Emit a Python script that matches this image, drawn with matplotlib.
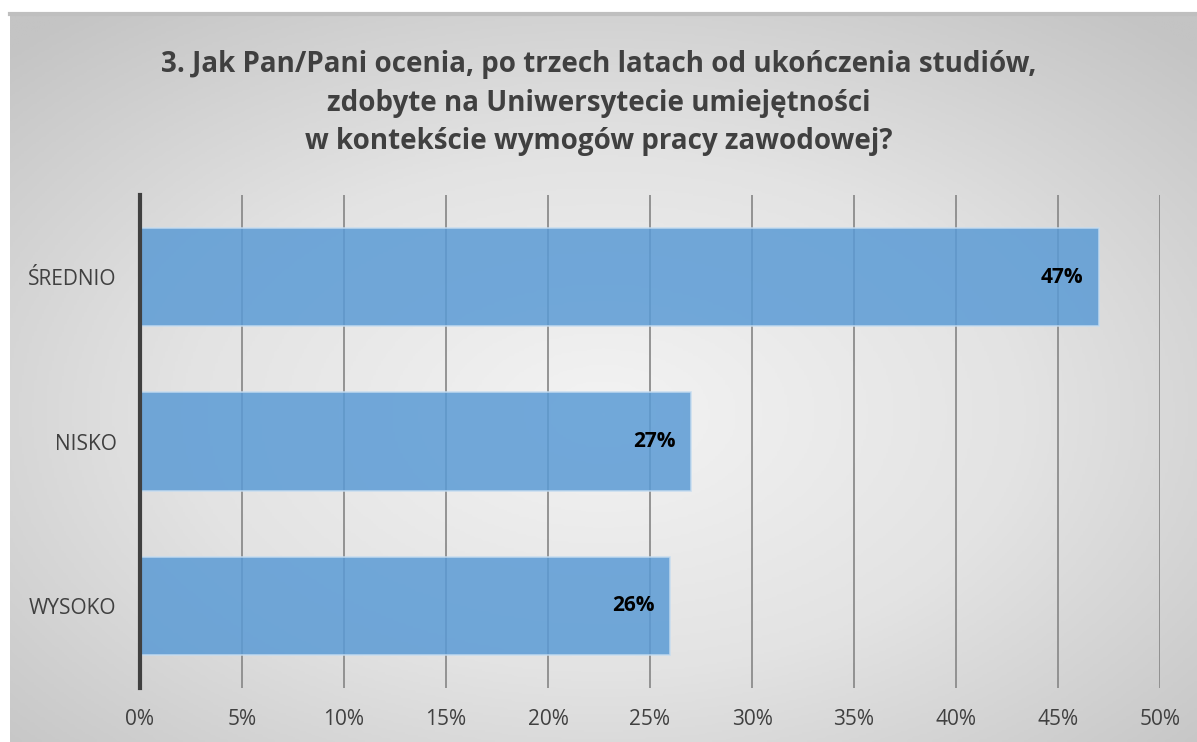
import numpy as np
import matplotlib
matplotlib.use('Agg')
import matplotlib.pyplot as plt
from matplotlib.colors import LinearSegmentedColormap

categories = ['WYSOKO', 'NISKO', 'ŚREDNIO']
values = [26, 27, 47]
ticks = [0, 5, 10, 15, 20, 25, 30, 35, 40, 45, 50]
title = ('3. Jak Pan/Pani ocenia, po trzech latach od ukończenia studiów,\n'
         'zdobyte na Uniwersytecie umiejętności\n'
         'w kontekście wymogów pracy zawodowej?')

plt.rcParams['font.family'] = ['Open Sans', 'DejaVu Sans']

W, H = 1197, 742
fig = plt.figure(figsize=(W / 100, H / 100), dpi=100)
fig.patch.set_facecolor('white')

# chart area background with radial gradient
bg = fig.add_axes([10 / W, 0, 1 - 10 / W, 1 - 14 / H])
bg.set_axis_off()
yy, xx = np.mgrid[0:1:300j, 0:1:480j]
r = np.sqrt(((xx - 0.5) / 0.75) ** 2 + ((yy - 0.55) / 0.75) ** 2)
cmap = LinearSegmentedColormap.from_list('bgg', ['#f3f3f3', '#e3e3e3', '#c4c4c4'])
bg.imshow(r, cmap=cmap, aspect='auto', extent=[0, 1, 0, 1], vmin=0, vmax=0.95)
bg.set_xlim(0, 1)
bg.set_ylim(0, 1)
bg.plot([0, 1], [1, 1], color='#bfbfbf', lw=3, clip_on=False)

ax = fig.add_axes([140 / W, 1 - 688 / H, 1020 / W, (688 - 195) / H])
ax.patch.set_alpha(0)
y = np.arange(len(categories))
bars = ax.barh(y, values, height=0.6, color='#5b9bd5', alpha=0.85,
               edgecolor='#c5dcf0', linewidth=1.2, zorder=3)
ax.set_xlim(0, 50)
ax.set_ylim(-0.5, 2.5)
ax.set_xticks(ticks)
ax.set_xticklabels([f'{t}%' for t in ticks])
ax.set_yticks(y)
ax.set_yticklabels(categories)
ax.tick_params(axis='both', length=0, labelsize=15, colors='#404040')
ax.tick_params(axis='x', pad=15)
ax.tick_params(axis='y', pad=17)
ax.grid(axis='x', color='#8c8c8c', lw=1.3, zorder=1)
for s in ['top', 'right', 'bottom']:
    ax.spines[s].set_visible(False)
ax.spines['left'].set_color('#404040')
ax.spines['left'].set_linewidth(3)
ax.spines['left'].set_zorder(4)

for b, v in zip(bars, values):
    ax.text(v - 0.75, b.get_y() + b.get_height() / 2, f'{v}%', ha='right',
            va='center', fontsize=15, fontweight='bold', color='black', zorder=5)

fig.text(0.5, 1 - 103 / H, title, ha='center', va='center', fontsize=20,
         fontweight='bold', color='#404040', linespacing=1.45)

fig.savefig('out.png', dpi=100)
